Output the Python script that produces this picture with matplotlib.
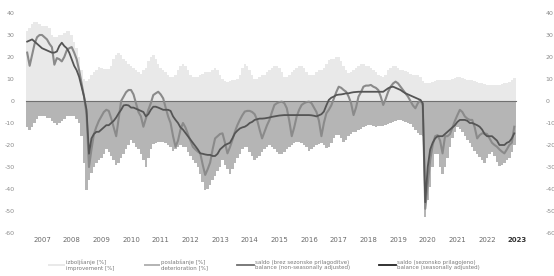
import matplotlib
matplotlib.use("Agg")
import matplotlib.pyplot as plt
from matplotlib.patches import Patch
from matplotlib.lines import Line2D
import numpy as np

# ---- data (monthly, Jan 2007 - Jun 2023) ----
improvement = (
    [32, 33, 35, 36, 36, 35, 34, 34, 34, 33, 30, 29] +
    [29, 30, 30, 31, 32, 32, 30, 27, 24, 20, 14, 10] +
    [9, 10, 12, 13, 14, 15.5, 15, 14.5, 14.5, 14.5, 16, 19] +
    [21, 22, 21, 19, 18, 17, 16, 15, 14, 13, 12.5, 14] +
    [15, 18, 20, 21, 19, 17, 15, 14, 13, 12, 11, 11] +
    [12, 14, 16, 17, 16, 14, 12, 11, 11, 11, 12, 12.5] +
    [13, 13, 13, 14, 15, 14, 12, 10, 9, 8.8, 9, 9.5] +
    [9.5, 10, 12, 15, 17, 16, 14, 12, 10, 10, 11, 12] +
    [12, 13, 14, 15, 16, 16, 15, 13, 11, 11, 12, 13] +
    [14, 15, 16, 16, 15, 13, 12, 12, 12, 13, 14, 14] +
    [15, 17, 18.6, 19, 19, 20, 20, 18, 16, 14, 12.7, 13] +
    [14, 15, 16, 17, 17, 16, 16, 15, 14, 13, 12, 11.5] +
    [11, 12, 14, 15, 16, 16, 15, 14, 14, 13.5, 13, 12.5] +
    [12, 12, 12, 11, 9, 8, 8, 8, 8.5, 9, 9.5, 9.5] +
    [9.5, 9.5, 9.5, 9.5, 10, 10.5, 11, 11, 10.5, 10, 9.5, 9.5] +
    [9.5, 9, 8.5, 8, 8, 7.8, 7.5, 7.5, 7.5, 7.5, 7.5, 7.5] +
    [7.8, 8, 8, 8.5, 9.5, 10.5]
)

deterioration = (
    [-11.7, -13, -12, -10, -8, -7, -7, -7, -7.5, -7.5, -9, -10] +
    [-11, -10, -9, -8, -7, -7, -7, -7, -8, -10, -16, -28] +
    [-40.5, -36, -32.5, -30, -28, -27, -26, -24, -22, -23, -25, -27] +
    [-29, -28, -26, -24, -22, -20, -17.7, -19, -21, -22, -24, -27] +
    [-30, -26, -22, -19.6, -19, -18.5, -18.5, -18.5, -19, -20, -21, -22.5] +
    [-22, -21, -20, -21, -21, -23, -25, -27, -28, -30, -33, -37] +
    [-40.5, -40, -38, -36, -34, -32, -30, -27, -29, -31, -33, -31] +
    [-28, -26, -24, -22, -21, -21, -23, -25, -27, -26, -25, -23] +
    [-22, -21, -20, -21, -22, -23, -24, -24, -23, -22, -21, -20] +
    [-19, -18.5, -18.5, -19, -20, -21, -22.5, -22, -21, -20, -19.5, -19] +
    [-20, -21.5, -21, -19, -17, -15.5, -15.5, -17, -18.5, -17.5, -16, -15] +
    [-14, -14, -13, -12.5, -12, -11.5, -11, -11, -11.5, -12, -11.5, -11.5] +
    [-11.5, -11, -10.5, -10, -9.5, -9, -8.6, -8.6, -9, -9.5, -10, -10.5] +
    [-12, -13, -14.6, -15.5, -16, -52.6, -45, -39, -30, -24, -24, -30] +
    [-33, -30, -26, -21, -17, -14, -12, -12.5, -14, -16, -17.5, -19] +
    [-21, -22.5, -24, -25.5, -27, -28, -26, -24, -23, -25, -27.5, -29.5] +
    [-29, -28, -27, -26, -23, -20]
)

balance_nsa = (
    [22, 16, 21, 26, 29, 30, 30, 29, 28, 26, 24.5, 16.5] +
    [19.5, 19, 18, 20, 23, 24, 24.5, 22, 19, 14, 8, 2] +
    [-6, -30, -22, -15, -11.7, -9, -7, -5, -4, -4.5, -8, -12] +
    [-16, -8, 0, 2, 4, 5, 5, 3, -1, -5, -7, -11.7] +
    [-8, -4, -1, 2.7, 3.5, 4.2, 3, 1.2, -3, -7, -10, -16] +
    [-20.8, -18, -13, -10, -12, -15, -18, -20.8, -22, -23, -23.8, -29] +
    [-33.6, -31, -28, -22, -17, -16, -15, -14.7, -19, -23.8, -21, -17.7] +
    [-14, -11, -8.6, -6.5, -4.8, -4.5, -4.5, -5, -6, -8.6, -13, -17] +
    [-14, -11, -8.6, -5, -1.8, -1, -0.5, -0.3, -1, -3.3, -9, -16] +
    [-12, -7, -4, -1.8, -1, -0.5, -0.3, -1, -3, -5, -9, -16] +
    [-10, -5.6, -4, -2, 1, 4, 6.5, 6, 5, 4.2, 2, -1] +
    [-6.4, -3, 2, 4, 6.5, 7, 7, 7.3, 6.5, 6, 5, 2] +
    [-1.8, 1, 4.2, 6.5, 8, 8.8, 8, 6.5, 5, 3.5, 2, 0] +
    [-2, -3.3, -1, 0.5, -2, -49, -38, -26.8, -20, -16, -15.5, -18] +
    [-23.8, -16, -16, -15, -12, -9, -6.4, -4, -5, -7, -8, -8.6] +
    [-8.6, -12, -17, -15.5, -14.7, -14.7, -15, -17, -19, -20, -20.8, -22] +
    [-23, -23.8, -22, -20, -19, -11.7]
)

balance_sa = (
    [27, 27.5, 28, 27, 26, 25, 24, 23.5, 23, 22.5, 22, 22] +
    [22.5, 25, 26.5, 25, 24, 22, 19, 16, 14, 11, 6.5, 2] +
    [-4, -24, -17, -15, -14, -14, -13, -12, -11, -11, -10, -9] +
    [-7.5, -5.6, -4, -2, -1.8, -2, -3, -3, -3.5, -4, -4.5, -5] +
    [-7, -6, -4, -2.6, -2.6, -3, -3.5, -4, -4, -4, -4.5, -7] +
    [-8.6, -10, -12, -13, -14.5, -16, -17.5, -19, -20.5, -22, -23.8, -24] +
    [-24.3, -24.5, -24.5, -25, -25, -24, -22, -21, -20, -19.5, -19, -17] +
    [-14.7, -13.5, -12.5, -12, -11.7, -11, -10, -9.5, -8.6, -8.3, -8, -8] +
    [-7.9, -7.7, -7.5, -7.2, -7, -6.8, -6.6, -6.5, -6.4, -6.4, -6.4, -6.4] +
    [-6.4, -6.4, -6.4, -6.4, -6.4, -6.4, -6.4, -6.5, -6.7, -7, -6.5, -6] +
    [-4.8, -2, 0.5, 1.5, 2, 2.7, 2.9, 3, 3.2, 3.5, 3.5, 3.8] +
    [4, 4.1, 4.2, 4.2, 4.2, 4.2, 4.2, 4.2, 4.2, 4.2, 4.2, 4.2] +
    [4.2, 5, 5.8, 6.3, 6.5, 6, 5.5, 5, 4.2, 3.5, 3, 2.5] +
    [2, 1.5, 1, 0.5, -1, -46, -30, -22, -19, -17, -16, -16] +
    [-16, -15, -14, -13, -12, -11, -9.5, -8.6, -8.6, -8.6, -9, -10] +
    [-10, -10.5, -11, -11.7, -13, -15, -16, -16, -16, -17, -18, -20] +
    [-20, -20, -19, -18.5, -17, -14.7]
)

start_year = 2007
years = list(range(2007, 2024))
year_labels = [str(y) for y in years]
y_ticks = [40, 30, 20, 10, 0, -10, -20, -30, -40, -50, -60]

legend_labels = [
    "izboljšanje [%]\nimprovement [%]",
    "poslabšanje [%]\ndeterioration [%]",
    "saldo (brez sezonske prilagoditve)\nbalance (non-seasonally adjusted)",
    "saldo (sezonsko prilagojeno)\nbalance (seasonally adjusted)",
]

# ---- plot ----
n = len(balance_sa)
t = start_year + np.arange(n) / 12.0

W, H = 554, 276
fig = plt.figure(figsize=(W / 100, H / 100), dpi=100)
ax = fig.add_axes([20 / W, (H - 233) / H, 510 / W, 220 / H])

c_imp = "#e9e9e9"
c_det = "#b5b5b5"
c_nsa = "#8a8a8a"
c_sa = "#555555"

ax.bar(t, improvement, width=1 / 12, color=c_imp, linewidth=0, align="center")
ax.bar(t, deterioration, width=1 / 12, color=c_det, linewidth=0, align="center")
ax.plot([t[0] - 1 / 24, t[-1] + 1 / 24], [0, 0], color="#707070", lw=0.8)
ax.plot(t, balance_nsa, color=c_nsa, lw=1.5, solid_joinstyle="round")
ax.plot(t, balance_sa, color=c_sa, lw=1.3, solid_joinstyle="round")

ax.set_xlim(2006.758, 2023.947)
ax.set_ylim(-60, 40)
for s in ax.spines.values():
    s.set_visible(False)

ax.set_yticks(y_ticks)
ax.set_yticklabels([str(v) for v in y_ticks])
ax.tick_params(axis="y", length=0, pad=4, labelsize=4.5, labelcolor="#8a8a8a")

ax.set_xticks([y + 0.5 for y in years])
ax.set_xticklabels(year_labels)
ax.tick_params(axis="x", length=0, pad=3, labelsize=5, labelcolor="#6a6a6a")
lbls = ax.get_xticklabels()
lbls[-1].set_fontweight("bold")
lbls[-1].set_color("#333333")

ax2 = ax.twinx()
ax2.set_ylim(-60, 40)
ax2.set_yticks(y_ticks)
ax2.set_yticklabels([str(v) for v in y_ticks])
ax2.tick_params(axis="y", length=0, pad=11, labelsize=4.5, labelcolor="#8a8a8a")
for s in ax2.spines.values():
    s.set_visible(False)

handles = [
    Patch(facecolor=c_imp, edgecolor="none"),
    Patch(facecolor=c_det, edgecolor="none"),
    Line2D([], [], color="#707070", lw=1.3),
    Line2D([], [], color="#222222", lw=1.3),
]
leg = fig.legend(handles, legend_labels, loc="center", bbox_to_anchor=(264 / W, 1 - 265 / H),
                 ncol=4, frameon=False, fontsize=4, handlelength=3.0, handleheight=0.3,
                 handletextpad=0.2, columnspacing=5.2, labelcolor="#7a7a7a")

fig.savefig("out.png", dpi=100)
